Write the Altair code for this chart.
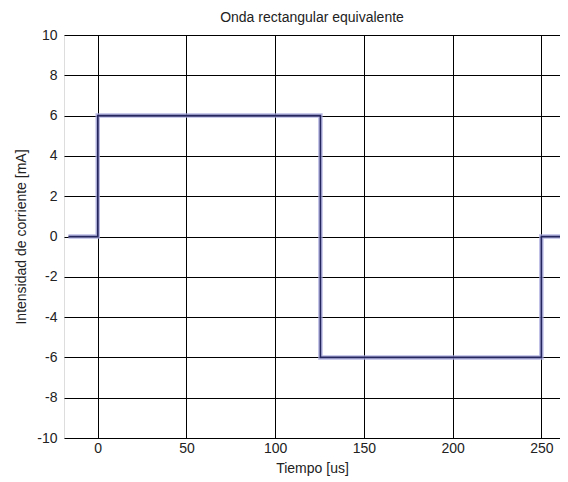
import altair as alt
import pandas as pd

t_us = [-16.5, 0, 0, 125.5, 125.5, 250, 250, 266]
i_ma = [0, 0, 6, 6, -6, -6, 0, 0]
order = list(range(len(t_us)))

df = pd.DataFrame({"t": t_us, "i": i_ma, "o": order})

common = dict(grid=True, gridColor="#000000", gridOpacity=1, gridWidth=1,
              domain=False, ticks=False, labelFontSize=14, labelColor="#222222",
              titleFontSize=14, titleFontWeight="normal", titleColor="#222222",
              labelFont="Liberation Sans", titleFont="Liberation Sans",
              labelExpr="'' + datum.value")

x = alt.X("t:Q", scale=alt.Scale(domain=[-19, 260.5], nice=False, zero=False),
          axis=alt.Axis(values=[0, 50, 100, 150, 200, 250], title="Tiempo [us]",
                        labelPadding=3, titlePadding=6, **common))
y = alt.Y("i:Q", scale=alt.Scale(domain=[-10, 10], nice=False),
          axis=alt.Axis(values=list(range(-10, 11, 2)), title="Intensidad de corriente [mA]",
                        labelPadding=7, titlePadding=8, **common))

halo = alt.Chart(df).mark_line(color="#a8a8de", strokeWidth=4.5, opacity=0.8, clip=True,
                               strokeJoin="miter", strokeCap="butt").encode(x=x, y=y, order="o:O")
core = alt.Chart(df).mark_line(color="#26265e", strokeWidth=1.6, clip=True,
                               strokeJoin="miter", strokeCap="butt").encode(x=x, y=y, order="o:O")

chart = (halo + core).properties(
    width=496, height=403,
    title=alt.TitleParams("Onda rectangular equivalente", fontSize=14, fontWeight="normal",
                          font="Liberation Sans", color="#222222", offset=3),
    autosize=alt.AutoSizeParams(type="none"),
    padding={"left": 56, "top": 27, "right": 0, "bottom": 40},
).configure_view(fill="#e5e5e5", stroke="#000000", strokeWidth=1.5).configure(background="#ffffff")

chart.save("out.html", embed_options={"renderer": "svg", "actions": False})
